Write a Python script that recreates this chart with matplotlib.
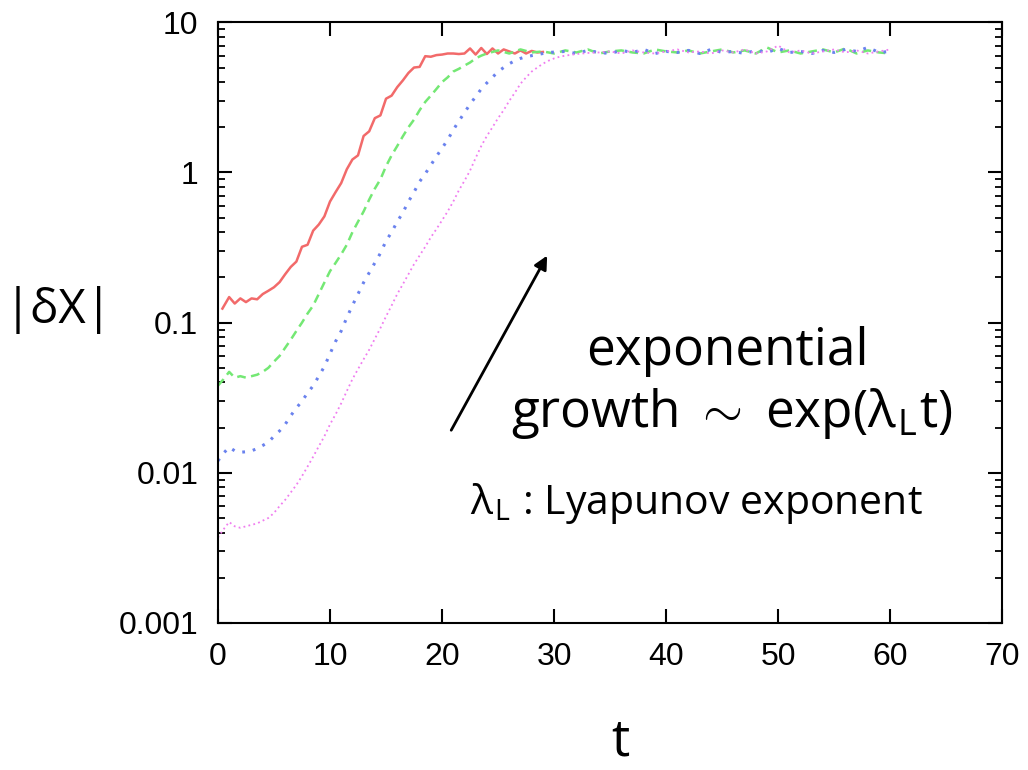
import matplotlib
matplotlib.use("Agg")
import matplotlib.pyplot as plt
import numpy as np

# |dX| vs t for four initial separations

t_red = [0.4, 1.0, 1.5, 2.0, 2.5, 3.0, 3.5, 4.0, 4.5, 5.0, 5.5, 6.0, 6.5, 7.0, 7.5,
         8.0, 8.5, 9.0, 9.5, 10.0, 10.5, 11.0, 11.5, 12.0, 12.5, 13.0, 13.5, 14.0,
         14.5, 15.0, 15.5, 16.0, 16.5, 17.0, 17.5, 18.0, 18.5, 19.0, 19.5, 20.0,
         20.5, 21.0, 21.5, 22.0, 22.5, 23.0, 23.5, 24.0, 24.5, 25.0, 25.5, 26.0,
         26.5, 27.0, 27.5, 28.0, 28.5, 29.0]
v_red = [0.124, 0.148, 0.134, 0.145, 0.137, 0.145, 0.143, 0.155, 0.163, 0.172,
         0.186, 0.21, 0.235, 0.255, 0.32, 0.33, 0.41, 0.45, 0.51, 0.64, 0.74, 0.85,
         1.05, 1.22, 1.30, 1.75, 1.88, 2.3, 2.4, 3.1, 3.25, 3.7, 4.1, 4.6, 5.0, 5.05,
         5.95, 5.9, 6.05, 6.1, 6.2, 6.2, 6.15, 6.2, 6.7, 6.1, 6.75, 6.15, 6.7, 6.2,
         6.6, 6.4, 6.2, 6.5, 6.2, 6.45, 6.3, 6.35]

t_green = [0.0, 0.5, 1.0, 1.5, 2.0, 2.5, 3.0, 3.5, 4.0, 4.5, 5.0, 5.5, 6.0, 6.5,
           7.0, 7.5, 8.0, 8.5, 9.0, 9.5, 10.0, 10.5, 11.0, 11.5, 12.0, 12.5, 13.0,
           13.5, 14.0, 14.5, 15.0, 15.5, 16.0, 16.5, 17.0, 17.5, 18.0, 18.5, 19.0,
           19.5, 20.0, 20.5, 21.0, 21.5, 22.0, 22.5, 23.0, 23.5, 24.0,
           25, 26, 27, 28, 29, 30, 31, 32, 33, 34, 35, 36, 37, 38, 39, 40, 41, 42,
           43, 44, 45, 46, 47, 48, 49, 50, 51, 52, 53, 54, 55, 56, 57, 58, 59, 60]
v_green = [0.038, 0.042, 0.047, 0.043, 0.044, 0.043, 0.044, 0.045, 0.047, 0.050,
           0.055, 0.060, 0.068, 0.077, 0.088, 0.10, 0.115, 0.13, 0.155, 0.185,
           0.22, 0.25, 0.285, 0.33, 0.40, 0.47, 0.55, 0.66, 0.78, 0.90, 1.10, 1.30,
           1.5, 1.74, 2.0, 2.25, 2.6, 2.95, 3.25, 3.6, 4.0, 4.3, 4.7, 4.9, 5.15,
           5.4, 5.75, 6.0, 6.2,
           6.5, 6.2, 6.6, 6.3, 6.4, 6.2, 6.5, 6.3, 6.6, 6.2, 6.4, 6.5, 6.3, 6.2,
           6.6, 6.4, 6.3, 6.5, 6.2, 6.4, 6.6, 6.3, 6.5, 6.2, 6.8, 6.3, 6.5, 6.2,
           6.4, 6.6, 6.3, 6.7, 6.2, 6.5, 6.3, 6.2]

t_blue = [0.0, 0.5, 1.0, 1.5, 2.0, 2.5, 3.0, 3.5, 4.0, 4.5, 5.0, 5.5, 6.0, 6.5,
          7.0, 7.5, 8.0, 8.5, 9.0, 9.5, 10.0, 10.5, 11.0, 11.5, 12.0, 12.5, 13.0,
          13.5, 14.0, 14.5, 15.0, 15.5, 16.0, 16.5, 17.0, 17.5, 18.0, 18.5, 19.0,
          19.5, 20.0, 20.5, 21.0, 21.5, 22.0, 22.5, 23.0, 23.5, 24.0, 24.5, 25.0,
          25.5, 26.0, 26.5, 27.0, 27.5, 28.0, 28.5, 29.0, 29.5,
          31, 32, 33, 34, 35, 36, 37, 38, 39, 40, 41, 42, 43, 44, 45, 46, 47, 48,
          49, 50, 51, 52, 53, 54, 55, 56, 57, 58, 59, 60]
v_blue = [0.012, 0.0135, 0.0148, 0.014, 0.0137, 0.0138, 0.014, 0.0145, 0.0152,
          0.016, 0.0175, 0.019, 0.021, 0.024, 0.027, 0.030, 0.034, 0.038, 0.044,
          0.051, 0.062, 0.075, 0.088, 0.108, 0.13, 0.155, 0.185, 0.215, 0.25,
          0.29, 0.35, 0.40, 0.47, 0.54, 0.64, 0.74, 0.87, 0.98, 1.12, 1.28, 1.45,
          1.65, 1.92, 2.2, 2.5, 2.85, 3.2, 3.6, 3.95, 4.3, 4.7, 5.0, 5.3, 5.55,
          5.75, 5.9, 6.0, 6.1, 6.2, 6.3,
          6.4, 6.2, 6.5, 6.3, 6.2, 6.5, 6.3, 6.6, 6.2, 6.4, 6.3, 6.5, 6.2, 6.6,
          6.3, 6.4, 6.2, 6.5, 6.3, 6.7, 6.3, 6.4, 6.2, 6.5, 6.3, 6.6, 6.4, 6.8,
          6.3, 6.4]

t_mag = [0.0, 0.5, 1.0, 1.5, 2.0, 2.5, 3.0, 3.5, 4.0, 4.5, 5.0, 5.5, 6.0, 6.5,
         7.0, 7.5, 8.0, 8.5, 9.0, 9.5, 10.0, 10.5, 11.0, 11.5, 12.0, 12.5, 13.0,
         13.5, 14.0, 14.5, 15.0, 15.5, 16.0, 16.5, 17.0, 17.5, 18.0, 18.5, 19.0,
         19.5, 20.0, 20.5, 21.0, 21.5, 22.0, 22.5, 23.0, 23.5, 24.0, 24.5, 25.0,
         25.5, 26.0, 26.5, 27.0, 27.5, 28.0, 28.5, 29.0, 29.5, 30.0, 30.5, 31.0,
         32, 33, 34, 35, 36, 37, 38, 39, 40, 41, 42, 43, 44, 45, 46, 47, 48, 49,
         50, 51, 52, 53, 54, 55, 56, 57, 58, 59, 60]
v_mag = [0.0037, 0.0042, 0.0047, 0.0044, 0.0043, 0.0044, 0.0045, 0.0046, 0.0048,
         0.005, 0.0054, 0.006, 0.0066, 0.0074, 0.0083, 0.0095, 0.011, 0.0128,
         0.0150, 0.0175, 0.021, 0.0245, 0.029, 0.035, 0.042, 0.049, 0.057, 0.066,
         0.078, 0.092, 0.11, 0.13, 0.155, 0.18, 0.21, 0.245, 0.28, 0.32, 0.37,
         0.42, 0.48, 0.55, 0.64, 0.76, 0.88, 1.03, 1.25, 1.50, 1.75, 2.0, 2.3,
         2.6, 3.0, 3.4, 3.9, 4.3, 4.7, 5.0, 5.3, 5.55, 5.75, 5.9, 6.0,
         6.15, 6.25, 6.3, 6.4, 6.2, 6.5, 6.3, 6.2, 6.4, 6.6, 6.3, 6.4, 6.2, 6.5,
         6.3, 6.6, 6.2, 6.4, 7.0, 6.3, 6.5, 6.2, 6.4, 6.6, 6.3, 6.5, 6.2, 6.4,
         6.6]

xticks = [0, 10, 20, 30, 40, 50, 60, 70]
yticks = [0.001, 0.01, 0.1, 1, 10]
ytick_labels = ["0.001", "0.01", "0.1", "1", "10"]

plt.rcParams['mathtext.fontset'] = 'cm'
sans = ["Open Sans", "DejaVu Sans"]

fig = plt.figure(figsize=(10.28, 7.7), dpi=100)
ax = fig.add_axes([0.212, 0.191, 0.763, 0.780])

ax.plot(t_red, v_red, color="#f26a6a", lw=1.8)
ax.plot(t_green, v_green, color="#74e874", lw=1.8, dashes=(3.5, 2.2))
ax.plot(t_blue, v_blue, color="#6a82ee", lw=2.2, dashes=(0.9, 2.6))
ax.plot(t_mag, v_mag, color="#f07cf0", lw=1.3, dashes=(1.0, 1.8))

ax.set_yscale("log")
ax.set_xlim(0, 70)
ax.set_ylim(0.001, 10)
ax.set_xticks(xticks)
ax.set_yticks(yticks)
ax.set_yticklabels(ytick_labels)

for sp in ax.spines.values():
    sp.set_linewidth(1.5)
ax.tick_params(which="major", direction="in", length=10, width=1.5,
               top=True, right=True, labelsize=23, pad=14)
ax.tick_params(which="minor", direction="in", length=5, width=1.3,
               top=True, right=True)
for lab in ax.get_xticklabels() + ax.get_yticklabels():
    lab.set_fontfamily("Liberation Sans")

fig.text(0.057, 0.597, "|δX|", fontsize=34, family=sans,
         ha="center", va="center")
fig.text(0.603, 0.037, "t", fontsize=37, family=sans,
         ha="center", va="center")

# arrow along the growth region
ax.annotate("", xy=(29.5, 0.29), xytext=(20.7, 0.0185),
            arrowprops=dict(arrowstyle="-|>", color="black", lw=2,
                            mutation_scale=20))

fig.text(0.708, 0.544, "exponential", fontsize=37, family=sans,
         ha="center", va="center")
fig.text(0.712, 0.463, r"growth $\sim$ exp(λ$_{\mathregular{L}}$t)",
         fontsize=37, family=sans, ha="center", va="center")
fig.text(0.677, 0.346, r"λ$_{\mathregular{L}}$ : Lyapunov exponent",
         fontsize=29.5, family=sans, ha="center", va="center")

fig.savefig("out.png", dpi=100)
